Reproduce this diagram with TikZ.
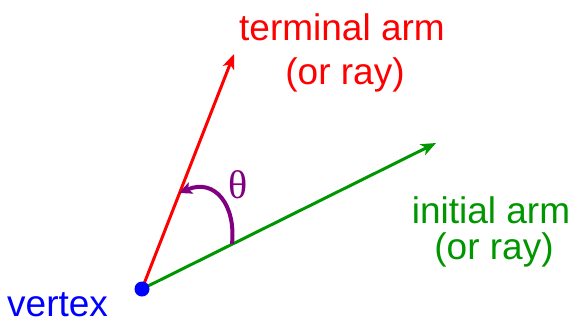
\documentclass[tikz,border=0pt]{standalone}
\usepackage{fontspec}
\setmainfont{Liberation Sans}
\newfontfamily\thetafont{Liberation Serif}
\usetikzlibrary{arrows.meta}
\definecolor{armred}{RGB}{255,0,0}
\definecolor{armgreen}{RGB}{0,150,0}
\definecolor{vblue}{RGB}{0,0,255}
\definecolor{apurple}{RGB}{128,0,128}
\tikzset{
  arm/.style={line width=3pt,-{Stealth[length=15pt,width=12pt,inset=4pt]}},
  lbl/.style={font=\fontsize{37}{42}\selectfont,inner sep=0pt,anchor=base},
}
\begin{document}
\begin{tikzpicture}[x=1pt,y=-1pt]
\useasboundingbox (0,0) rectangle (575,322);
\coordinate (V) at (142,289);
\coordinate (R) at (234,54);
\coordinate (G) at (436,143);
\coordinate (A1) at (232,244);
\coordinate (A2) at (179,193);
\draw[arm,armgreen] (V) -- (G);
\draw[arm,armred] (V) -- (R);
\draw[apurple,line width=4pt,-{Stealth[length=13pt,width=12pt,inset=3pt]}] (A1) .. controls (236,205) and (215,178) .. (A2);
\fill[vblue] (V) circle (7.5);
\node[lbl,text=armred] (t1) at (342,40) {terminal arm};
\node[lbl,text=armred] (t2) at (345,84) {(or ray)};
\node[lbl,text=armgreen] (i1) at (491,223) {initial arm};
\node[lbl,text=armgreen] (i2) at (494,259) {(or ray)};
\node[lbl,text=vblue,anchor=base west,text depth=0pt] (vx) at (7,316) {vertex};
\node[text=apurple,inner sep=0pt,font=\thetafont\fontsize{40}{44}\selectfont] (th) at (238,185) {θ};
\end{tikzpicture}
\end{document}
